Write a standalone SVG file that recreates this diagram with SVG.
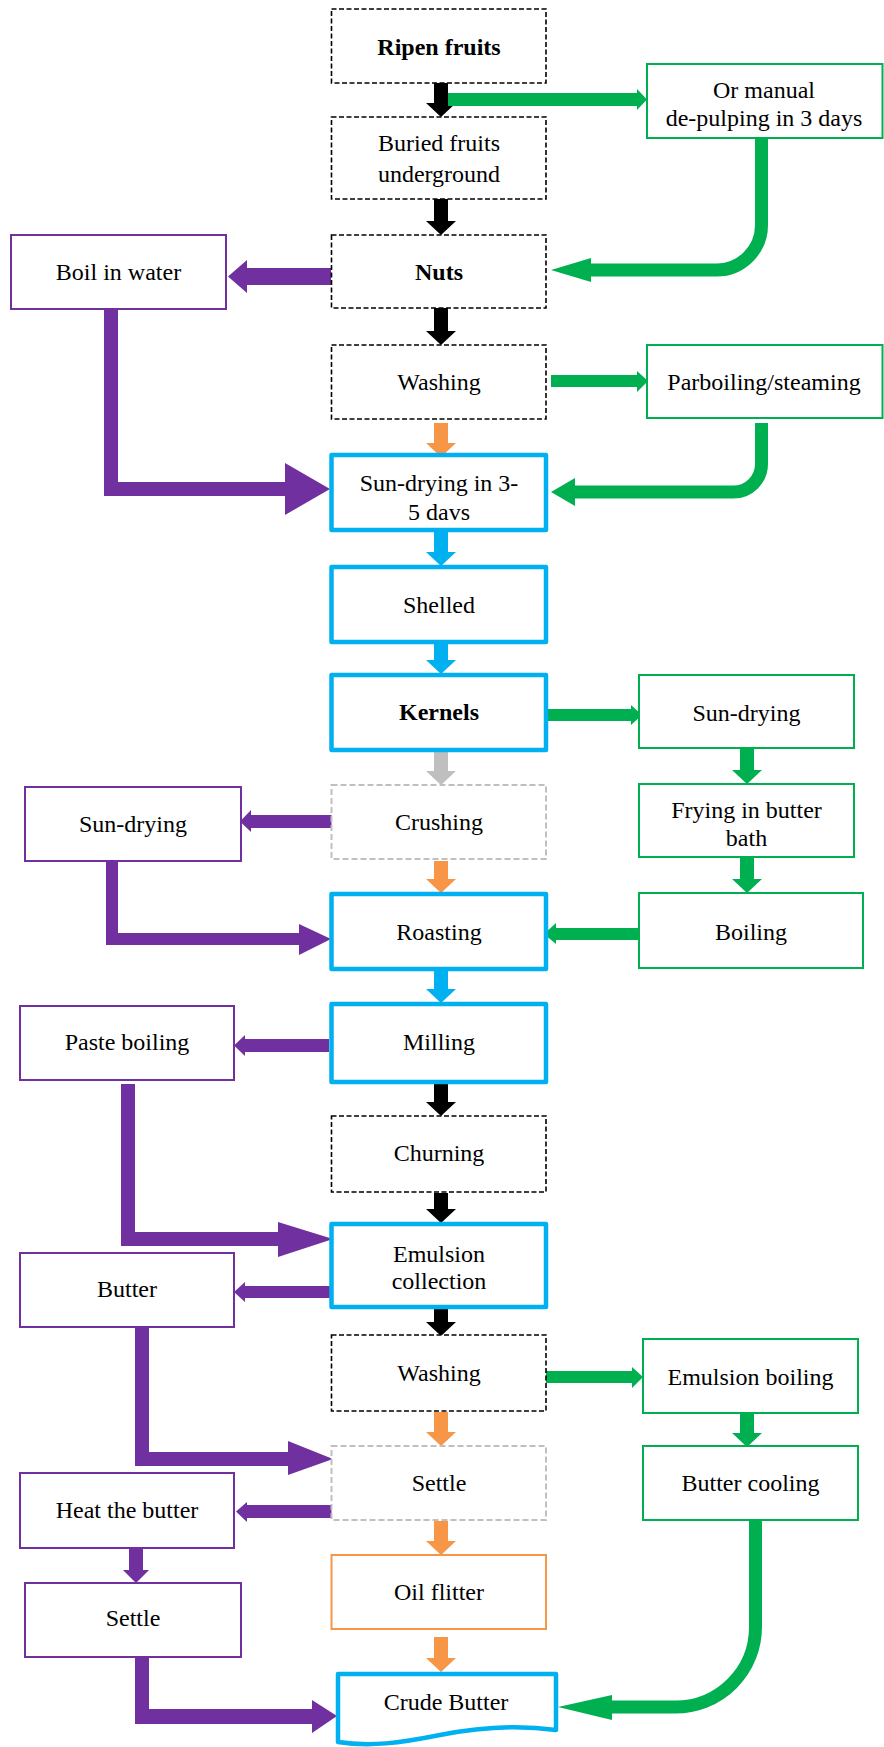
<svg xmlns="http://www.w3.org/2000/svg" width="884" height="1747" viewBox="0 0 884 1747">
<style>
rect,path.box{fill:#fff}
.dk{stroke:#000;stroke-width:1.6;stroke-dasharray:5 2.5}
.gy{stroke:#BFBFBF;stroke-width:2;stroke-dasharray:6 3}
.bl{stroke:#00B0F0;stroke-width:4.5;stroke-linejoin:round}
.gr{stroke:#00B050;stroke-width:2}
.pu{stroke:#7030A0;stroke-width:2}
.or{stroke:#F79646;stroke-width:2}
text{font-family:"Liberation Serif","Times New Roman",serif;font-size:24px;fill:#000;text-anchor:middle}
.b{font-weight:bold}
.aK{fill:#000}.aG{fill:#00B050}.aP{fill:#7030A0}.aB{fill:#00B0F0}.aO{fill:#F79646}.aY{fill:#BFBFBF}
.cg{fill:none;stroke:#00B050;stroke-width:13}
</style>
<g id="connectors">
<!-- main vertical -->
<polygon class="aK" points="434,83 448,83 448,103 456,103 441,117 426,103 434,103"/>
<polygon class="aK" points="434,199 448,199 448,221 456,221 441,235 426,221 434,221"/>
<polygon class="aK" points="434,308 448,308 448,331 456,331 441,345 426,331 434,331"/>
<polygon class="aO" points="434,423 448,423 448,443 456,443 441,457 426,443 434,443"/>
<polygon class="aB" points="434,532 448,532 448,552 456,552 441,566 426,552 434,552"/>
<polygon class="aB" points="434,644 448,644 448,660 456,660 441,674 426,660 434,660"/>
<polygon class="aY" points="434,752 448,752 448,771 456,771 441,785 426,771 434,771"/>
<polygon class="aO" points="434,861 448,861 448,879 456,879 441,893 426,879 434,879"/>
<polygon class="aB" points="434,971 448,971 448,989 456,989 441,1003 426,989 434,989"/>
<polygon class="aK" points="434,1084 448,1084 448,1102 456,1102 441,1116 426,1102 434,1102"/>
<polygon class="aK" points="434,1193 448,1193 448,1209 456,1209 441,1223 426,1209 434,1209"/>
<polygon class="aK" points="434,1309 448,1309 448,1322 456,1322 441,1336 426,1322 434,1322"/>
<polygon class="aO" points="434,1412 448,1412 448,1432 456,1432 441,1446 426,1432 434,1432"/>
<polygon class="aO" points="434,1521 448,1521 448,1541 456,1541 441,1555 426,1541 434,1541"/>
<polygon class="aO" points="434,1637 448,1637 448,1658 456,1658 441,1672 426,1658 434,1658"/>
<!-- green right verticals -->
<polygon class="aG" points="740,748 754,748 754,770 762,770 747,784 732,770 740,770"/>
<polygon class="aG" points="740,857 754,857 754,879 762,879 747,893 732,879 740,879"/>
<polygon class="aG" points="740,1413 754,1413 754,1433 762,1433 747,1447 732,1433 740,1433"/>
<!-- green horizontals -->
<polygon class="aG" points="448,93 637,93 637,89 647,99.5 637,110 637,106 448,106"/>
<polygon class="aG" points="551,375 637,375 637,371 648,381 637,392 637,387 551,387"/>
<polygon class="aG" points="546,709 631,709 631,705 642,715 631,725 631,721 546,721"/>
<polygon class="aG" points="639,928 556,928 556,923 544,934 556,944 556,940 639,940"/>
<polygon class="aG" points="546,1371 632,1371 632,1367 643,1377 632,1388 632,1383 546,1383"/>
<!-- green curves -->
<path class="cg" d="M761.5,138 V225 A45,45 0 0 1 716.5,270 H588"/>
<polygon class="aG" points="551,270 591,258 591,282"/>
<path class="cg" d="M761.5,423 V464 A28,28 0 0 1 733.5,492 H573"/>
<polygon class="aG" points="551,492 575,478 575,506"/>
<path class="cg" d="M755.5,1520 V1627 A80,80 0 0 1 675.5,1707 H608"/>
<polygon class="aG" points="558,1707 612,1695 612,1720"/>
<!-- purple left horizontals -->
<polygon class="aP" points="331,268 247,268 247,260 228,276.5 247,293 247,285 331,285"/>
<polygon class="aP" points="334,815 251,815 251,810 240,821.5 251,832 251,828 334,828"/>
<polygon class="aP" points="329,1039 245,1039 245,1035 234,1045.5 245,1056 245,1052 329,1052"/>
<polygon class="aP" points="333,1286 245,1286 245,1282 234,1292 245,1302 245,1298 333,1298"/>
<polygon class="aP" points="333,1505 247,1505 247,1502 236,1511.5 247,1522 247,1518 333,1518"/>
<polygon class="aP" points="129,1548 143,1548 143,1570 149,1570 136,1583 123,1570 129,1570"/>
<!-- purple elbows -->
<polygon class="aP" points="104,309 118,309 118,482 285,482 285,463 330,489 285,515 285,496 104,496"/>
<polygon class="aP" points="106,861 118,861 118,933 299,933 299,924 331,939 299,955 299,945 106,945"/>
<polygon class="aP" points="121,1084 135,1084 135,1232 278,1232 278,1222 333,1239 278,1257 278,1246 121,1246"/>
<polygon class="aP" points="135,1327 149,1327 149,1452 288,1452 288,1441 333,1459 288,1475 288,1466 135,1466"/>
<polygon class="aP" points="135,1657 149,1657 149,1709 312,1709 312,1700 337,1716 312,1733 312,1724 135,1724"/>
</g>
<g id="n-ripen"><rect class="dk" x="331.5" y="9" width="214.5" height="74"/><text class="b" x="439" y="55">Ripen fruits</text></g>
<g id="n-buried"><rect class="dk" x="331.5" y="117" width="214.5" height="82"/><text x="439" y="151">Buried fruits</text><text x="439" y="182">underground</text></g>
<g id="n-nuts"><rect class="dk" x="331.5" y="235" width="214.5" height="73"/><text class="b" x="439" y="280">Nuts</text></g>
<g id="n-washing"><rect class="dk" x="331.5" y="345" width="214.5" height="74"/><text x="439" y="390">Washing</text></g>
<g id="n-sundrying"><rect class="bl" x="331.5" y="455" width="214.5" height="75"/><text x="439" y="491">Sun-drying in 3-</text><text x="439" y="520">5 davs</text></g>
<g id="n-shelled"><rect class="bl" x="331.5" y="567" width="214.5" height="75"/><text x="439" y="613">Shelled</text></g>
<g id="n-kernels"><rect class="bl" x="331.5" y="675" width="214.5" height="75"/><text class="b" x="439" y="720">Kernels</text></g>
<g id="n-crushing"><rect class="gy" x="331.5" y="785" width="214.5" height="74"/><text x="439" y="830">Crushing</text></g>
<g id="n-roasting"><rect class="bl" x="331.5" y="894" width="214.5" height="75"/><text x="439" y="940">Roasting</text></g>
<g id="n-milling"><rect class="bl" x="331.5" y="1004" width="214.5" height="78"/><text x="439" y="1050">Milling</text></g>
<g id="n-churning"><rect class="dk" x="331.5" y="1116" width="214.5" height="76"/><text x="439" y="1161">Churning</text></g>
<g id="n-emulsion"><rect class="bl" x="331.5" y="1224" width="214.5" height="83"/><text x="439" y="1262">Emulsion</text><text x="439" y="1289">collection</text></g>
<g id="n-washing2"><rect class="dk" x="331.5" y="1335" width="214.5" height="76"/><text x="439" y="1381">Washing</text></g>
<g id="n-settle"><rect class="gy" x="331.5" y="1446" width="214.5" height="74"/><text x="439" y="1491">Settle</text></g>
<g id="n-oil"><rect class="or" x="331.5" y="1555" width="214.5" height="74"/><text x="439" y="1600">Oil flitter</text></g>
<g id="n-crude"><path class="box bl" d="M338,1674 H556 V1730 C520,1725 480,1727 440,1735 C400,1743 370,1747 338,1742 Z"/><text x="446" y="1710">Crude Butter</text></g>
<g id="n-boil"><rect class="pu" x="11" y="235" width="215" height="74"/><text x="118.5" y="280">Boil in water</text></g>
<g id="n-sundryL"><rect class="pu" x="25" y="787" width="216" height="74"/><text x="133" y="832">Sun-drying</text></g>
<g id="n-paste"><rect class="pu" x="20" y="1006" width="214" height="74"/><text x="127" y="1050">Paste boiling</text></g>
<g id="n-butter"><rect class="pu" x="20" y="1253" width="214" height="74"/><text x="127" y="1297">Butter</text></g>
<g id="n-heat"><rect class="pu" x="20" y="1473" width="214" height="75"/><text x="127" y="1518">Heat the butter</text></g>
<g id="n-settleL"><rect class="pu" x="25" y="1583" width="216" height="74"/><text x="133" y="1626">Settle</text></g>
<g id="n-manual"><rect class="gr" x="647" y="64" width="235.5" height="74"/><text x="764" y="98">Or manual</text><text x="764" y="126">de-pulping in 3 days</text></g>
<g id="n-parboil"><rect class="gr" x="647" y="345" width="235.5" height="73"/><text x="764" y="390">Parboiling/steaming</text></g>
<g id="n-sundryR"><rect class="gr" x="639" y="675" width="215" height="73"/><text x="746.5" y="721">Sun-drying</text></g>
<g id="n-frying"><rect class="gr" x="639" y="784" width="215" height="73"/><text x="746.5" y="818">Frying in butter</text><text x="746.5" y="846">bath</text></g>
<g id="n-boiling"><rect class="gr" x="639" y="893" width="224" height="75"/><text x="751" y="940">Boiling</text></g>
<g id="n-emboil"><rect class="gr" x="643" y="1339" width="215" height="74"/><text x="750.5" y="1385">Emulsion boiling</text></g>
<g id="n-cooling"><rect class="gr" x="643" y="1446" width="215" height="74"/><text x="750.5" y="1491">Butter cooling</text></g>
</svg>
